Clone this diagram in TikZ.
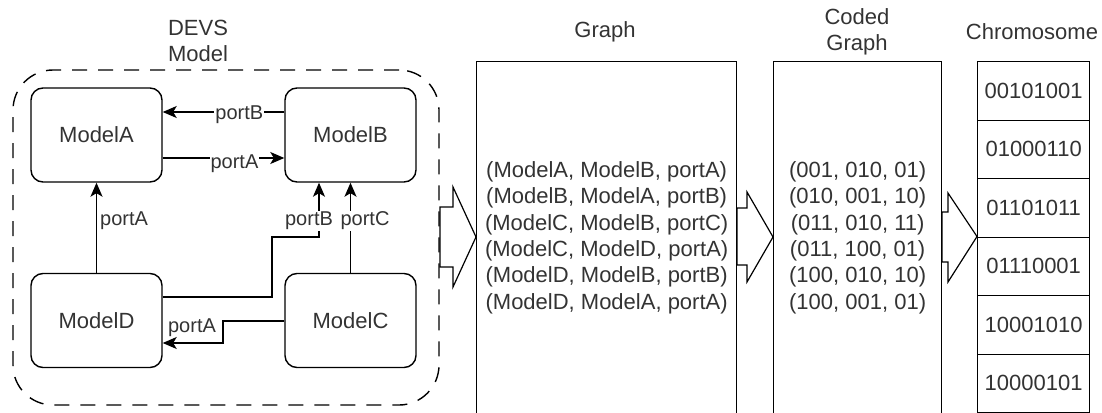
\documentclass[tikz,border=0pt]{standalone}
\usepackage{fontspec}
\setmainfont{Liberation Sans}
\usetikzlibrary{arrows.meta,calc}

\begin{document}
\begin{tikzpicture}[x=1pt,y=-1pt,
  txt/.style={text=black!80, font=\fontsize{22}{26.4}\selectfont, inner sep=0pt},
  model/.style={txt, draw=black, line width=1.4pt, rounded corners=12pt,
    minimum width=131pt, minimum height=94pt},
  link/.style={line width=1.4pt, -{Stealth[length=14pt,width=12pt,inset=3.5pt]}},
  port/.style={text=black!80, fill=white, inner sep=1pt, font=\fontsize{20}{24}\selectfont},
  bigbox/.style={txt, draw=black, line width=1.3pt, anchor=north west, align=center},
  cell/.style={txt, draw=black, line width=1.3pt, anchor=north west,
    minimum width=112pt, minimum height=58.5pt},
  blockarrow/.style={draw=black, fill=white, line width=1.2pt, line join=miter},
]
\clip (0,0) rectangle (1102,412);
\path[use as bounding box] (0,0) rectangle (1102,412);

% DEVS coupled model frame
\node[draw=black, line width=1.4pt, dash pattern=on 15pt off 11pt,
  rounded corners=40pt, minimum width=426pt, minimum height=335pt, inner sep=0pt]
  (devs) at (226,237.5) {};
\node[txt, align=center] (devsT) at (198,41) {DEVS\\Model};

% atomic models
\node[model] (A) at (96.5,135) {ModelA};
\node[model] (B) at (350.5,135) {ModelB};
\node[model] (D) at (96.5,320.5) {ModelD};
\node[model] (C) at (350.5,320.5) {ModelC};

% couplings
\draw[link] (B.west |- 0,112) -- node[port, pos=0.37, yshift=-3pt] {portB} (A.east |- 0,112);
\draw[link] (A.east |- 0,158) -- node[port, pos=0.59, yshift=-6pt] {portA} (B.west |- 0,158);
\draw[link] (D.north) -- node[port, pos=0.576, anchor=west, xshift=2pt, fill=none] {portA} (A.south);
\draw[link] (D.east |- 0,297) -- (272,297) |- (319,237) -- (B.south -| 319,0);
\draw[link] (C.north) -- (B.south);
\draw[link] (C.west |- 0,321) -- (223,321) |- (D.east |- 0,343);
\node[port] (lbDB) at (309,221) {portB};
\node[port] (lbCB) at (365,221) {portC};
\node[port, fill=none] (lbCD) at (192,328) {portA};

% graph representation
\node[txt] (graphT) at (605,32) {Graph};
\node[bigbox, minimum width=260pt, minimum height=352pt] (graph) at (476,61)
  {(ModelA, ModelB, portA)\\(ModelB, ModelA, portB)\\(ModelC, ModelB, portC)\\
   (ModelC, ModelD, portA)\\(ModelD, ModelB, portB)\\(ModelD, ModelA, portA)};

% coded graph
\node[txt, align=center] (codedT) at (857,32) {Coded\\Graph};
\node[bigbox, minimum width=168pt, minimum height=352pt] (coded) at (773,61)
  {(001, 010, 01)\\(010, 001, 10)\\(011, 010, 11)\\
   (011, 100, 01)\\(100, 010, 10)\\(100, 001, 01)};

% chromosome
\node[txt] (chromT) at (1032,32) {Chromosome};
\foreach \i/\g in {0/00101001,1/01000110,2/01101011,3/01110001,4/10001010,5/10000101}
  \node[cell] (gene\i) at (977,{61+58.5*\i}) {\g};

% transformation arrows
\draw[blockarrow] (440,207) -- (453,207) -- (453,187) -- (graph.west |- 0,237)
  -- (453,287) -- (453,267) -- (440,267) -- cycle;
\draw[blockarrow] (737,208) -- (747,208) -- (747,192) -- (coded.west |- 0,237)
  -- (747,282) -- (747,265) -- (737,265) -- cycle;
\draw[blockarrow] (942,212) -- (948,212) -- (948,193) -- (gene3.north west)
  -- (948,282) -- (948,262) -- (942,262) -- cycle;
\end{tikzpicture}
\end{document}
